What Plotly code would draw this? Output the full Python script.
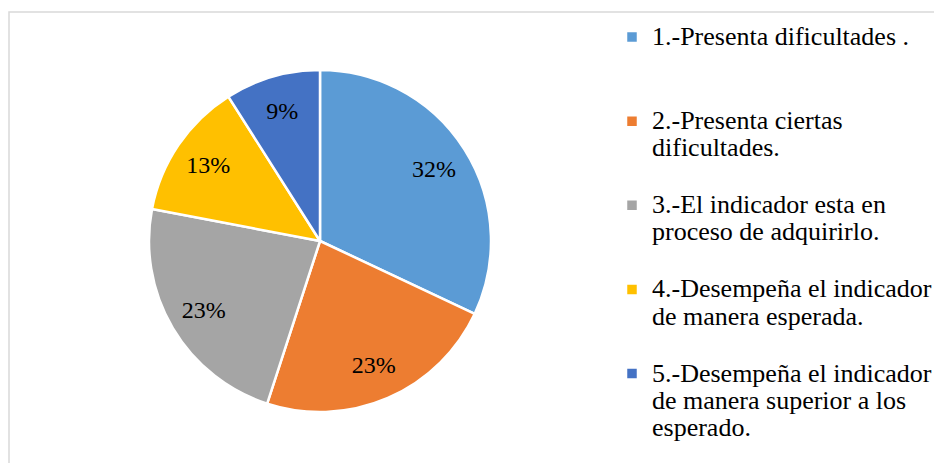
import plotly.graph_objects as go

categories = [
    "1.-Presenta dificultades .",
    "2.-Presenta ciertas<br>dificultades.",
    "3.-El indicador esta en<br>proceso de adquirirlo.",
    "4.-Desempeña el indicador<br>de manera esperada.",
    "5.-Desempeña el indicador<br>de manera superior a los<br>esperado.",
]
legend_padding = ["<br> <br> ", "<br> ", "<br> ", "<br> ", ""]
values = [32, 23, 23, 13, 9]
colors = ["#5B9BD5", "#ED7D31", "#A5A5A5", "#FFC000", "#4472C4"]

SERIF = "Liberation Serif, Times New Roman, serif"
W, H = 942, 463
OFF = 8  # page body margin
cx, cy, r = 320 - OFF, 241 - OFF, 171
dom = dict(x=[(cx - r) / W, (cx + r) / W], y=[1 - (cy + r) / H, 1 - (cy - r) / H])

SPAN = '<span style="font-size:26px">'
legend_labels = [
    SPAN + c.replace("<br>", "</span><br>" + SPAN) + "</span>" + p
    for c, p in zip(categories, legend_padding)
]

fig = go.Figure()
fig.add_trace(
    go.Pie(
        labels=legend_labels,
        values=values,
        sort=False,
        direction="clockwise",
        rotation=0,
        marker=dict(colors=colors, line=dict(color="white", width=2.5)),
        textinfo="none",
        domain=dom,
        hoverinfo="skip",
    )
)
fig.add_trace(
    go.Pie(
        labels=legend_labels,
        values=values,
        sort=False,
        direction="clockwise",
        rotation=0,
        hole=0.58,
        marker=dict(colors=["rgba(0,0,0,0)"] * len(values), line=dict(width=0)),
        texttemplate="%{percent:.0%}",
        textposition="inside",
        insidetextorientation="horizontal",
        textfont=dict(family=SERIF, size=24, color="black"),
        domain=dom,
        hoverinfo="skip",
        showlegend=False,
    )
)

fig.update_layout(
    width=W,
    height=H,
    margin=dict(l=0, r=0, t=0, b=0),
    paper_bgcolor="white",
    plot_bgcolor="white",
    font=dict(family=SERIF, color="black"),
    legend=dict(
        x=604 / W,
        y=1 - 9 / H,
        xanchor="left",
        yanchor="top",
        valign="top",
        font=dict(family=SERIF, size=20.8, color="black"),
        bgcolor="rgba(0,0,0,0)",
    ),
    shapes=[
        dict(
            type="rect",
            xref="paper",
            yref="paper",
            x0=(9 - OFF) / W,
            x1=1.2,
            y0=-0.2,
            y1=1 - (12 - OFF) / H,
            line=dict(color="#D9D9D9", width=1.5),
            layer="below",
        )
    ],
)

fig.write_html("out.html")
